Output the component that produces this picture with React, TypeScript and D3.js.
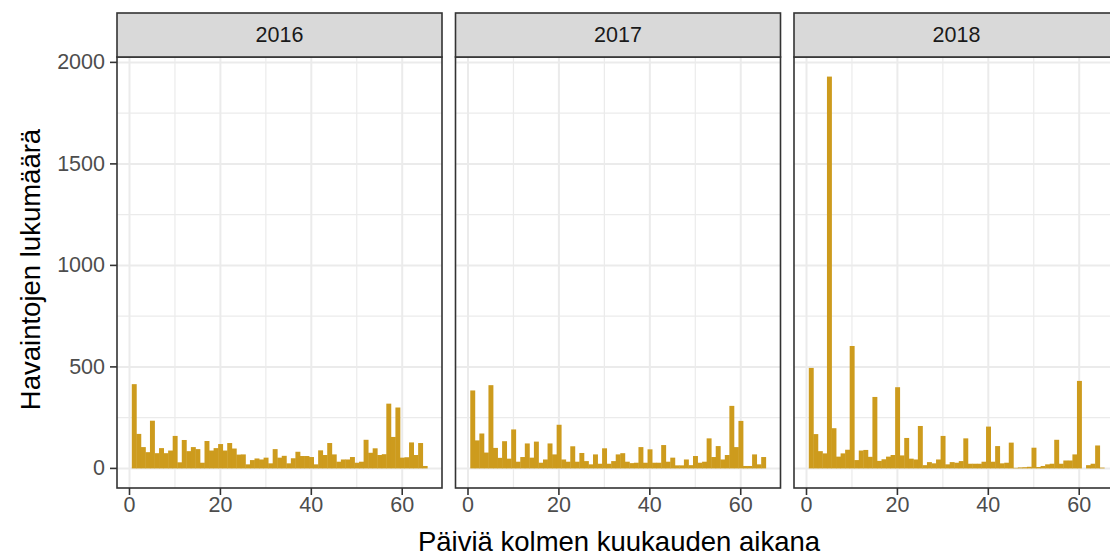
import React from 'react';
import * as d3 from 'd3';

const years = ['2016', '2017', '2018'];
const days = d3.range(1, 66);
const counts2016 = [415, 170, 105, 80, 235, 75, 100, 75, 88, 160, 30, 140, 85, 105, 95, 28, 135, 88, 100, 120, 88, 125, 98, 68, 69, 20, 41, 49, 44, 53, 25, 95, 53, 62, 25, 50, 82, 61, 61, 56, 20, 89, 66, 125, 69, 33, 44, 44, 56, 28, 33, 141, 77, 99, 66, 70, 319, 155, 300, 53, 55, 128, 66, 125, 12];
const counts2017 = [384, 138, 172, 78, 410, 101, 52, 134, 48, 192, 33, 56, 123, 53, 132, 28, 44, 123, 69, 215, 44, 33, 109, 33, 76, 36, 20, 69, 23, 99, 23, 36, 69, 75, 33, 26, 28, 105, 28, 94, 28, 28, 115, 33, 53, 15, 15, 44, 16, 61, 28, 33, 148, 56, 110, 44, 66, 308, 105, 234, 12, 12, 69, 20, 56];
const counts2018 = [495, 169, 85, 74, 1930, 198, 58, 74, 92, 603, 41, 88, 91, 57, 352, 37, 45, 58, 66, 400, 64, 150, 48, 44, 209, 16, 31, 25, 44, 160, 20, 31, 28, 36, 148, 23, 23, 23, 33, 206, 33, 110, 25, 28, 127, 3, 5, 6, 8, 102, 7, 12, 20, 23, 141, 23, 39, 39, 69, 431, 0, 16, 23, 113, 4];
const yTicks = [0, 500, 1000, 1500, 2000];
const yMinor = [250, 750, 1250, 1750];
const xTicks = [0, 20, 40, 60];
const xMinor = [10, 30, 50];

const FONT = '"Liberation Sans", Arial, Helvetica, sans-serif';

export default function App() {
  const W = 1110, H = 557;
  const panelW = 325;
  const stripTop = 13, panelTop = 57, panelBottom = 488;
  const panelLefts = [117, 455.5, 794];
  const series = [counts2016, counts2017, counts2018];
  const yMax = d3.max(series.flat()) as number;
  const y = d3.scaleLinear().domain([-0.05 * yMax, 1.05 * yMax]).range([panelBottom, panelTop]);
  const xLo = (d3.min(days) as number) - 0.5, xHi = (d3.max(days) as number) + 0.5;
  const pad = (xHi - xLo) * 0.05;
  const xs = panelLefts.map(l => d3.scaleLinear().domain([xLo - pad, xHi + pad]).range([l, l + panelW]));
  const barColor = '#CD9B1D';

  return (
    <svg width={W} height={H} style={{ position: 'absolute', left: 0, top: 0, background: '#fff' }} fontFamily={FONT}>
      <rect x={0} y={0} width={W} height={H} fill="#fff" />
      {years.map((yr, p) => {
        const x = xs[p];
        const left = panelLefts[p];
        const vals = series[p];
        return (
          <g key={yr}>
            <rect x={left} y={panelTop} width={panelW} height={panelBottom - panelTop} fill="#fff" />
            {yMinor.map(t => (
              <line key={'ym' + t} x1={left} x2={left + panelW} y1={y(t)} y2={y(t)} stroke="#ebebeb" strokeWidth={1.2} />
            ))}
            {xMinor.map(t => (
              <line key={'xm' + t} x1={x(t)} x2={x(t)} y1={panelTop} y2={panelBottom} stroke="#ebebeb" strokeWidth={1.2} />
            ))}
            {yTicks.map(t => (
              <line key={'yM' + t} x1={left} x2={left + panelW} y1={y(t)} y2={y(t)} stroke="#ebebeb" strokeWidth={2} />
            ))}
            {xTicks.map(t => (
              <line key={'xM' + t} x1={x(t)} x2={x(t)} y1={panelTop} y2={panelBottom} stroke="#ebebeb" strokeWidth={2} />
            ))}
            {days.map((d, i) => {
              const v = vals[i];
              if (!v) return null;
              const x0 = x(d - 0.5), x1 = x(d + 0.5);
              return <rect key={d} x={x0} y={y(v)} width={x1 - x0 + 0.4} height={y(0) - y(v)} fill={barColor} />;
            })}
            <rect x={left} y={panelTop} width={panelW} height={panelBottom - panelTop} fill="none" stroke="#333333" strokeWidth={1.6} />
            <rect x={left} y={stripTop} width={panelW} height={panelTop - stripTop} fill="#d9d9d9" stroke="#333333" strokeWidth={1.6} />
            <text x={left + panelW / 2} y={(stripTop + panelTop) / 2} textAnchor="middle" dominantBaseline="central" fontSize={21.5} fill="#1a1a1a">{yr}</text>
            {xTicks.map(t => (
              <g key={'xt' + t}>
                <line x1={x(t)} x2={x(t)} y1={panelBottom} y2={panelBottom + 7} stroke="#333333" strokeWidth={1.6} />
                <text x={x(t)} y={panelBottom + 17} textAnchor="middle" dominantBaseline="central" fontSize={21.5} fill="#4d4d4d">{t}</text>
              </g>
            ))}
          </g>
        );
      })}
      {yTicks.map(t => (
        <g key={'yt' + t}>
          <line x1={panelLefts[0] - 7} x2={panelLefts[0]} y1={y(t)} y2={y(t)} stroke="#333333" strokeWidth={1.6} />
          <text x={panelLefts[0] - 12} y={y(t)} textAnchor="end" dominantBaseline="central" fontSize={21.5} fill="#4d4d4d">{t}</text>
        </g>
      ))}
      <text x={619} y={541} textAnchor="middle" dominantBaseline="central" fontSize={27.5} fill="#000">Päiviä kolmen kuukauden aikana</text>
      <text transform={`translate(30, ${(panelTop + panelBottom) / 2 - 3}) rotate(-90)`} textAnchor="middle" dominantBaseline="central" fontSize={27.5} fill="#000">Havaintojen lukumäärä</text>
    </svg>
  );
}
